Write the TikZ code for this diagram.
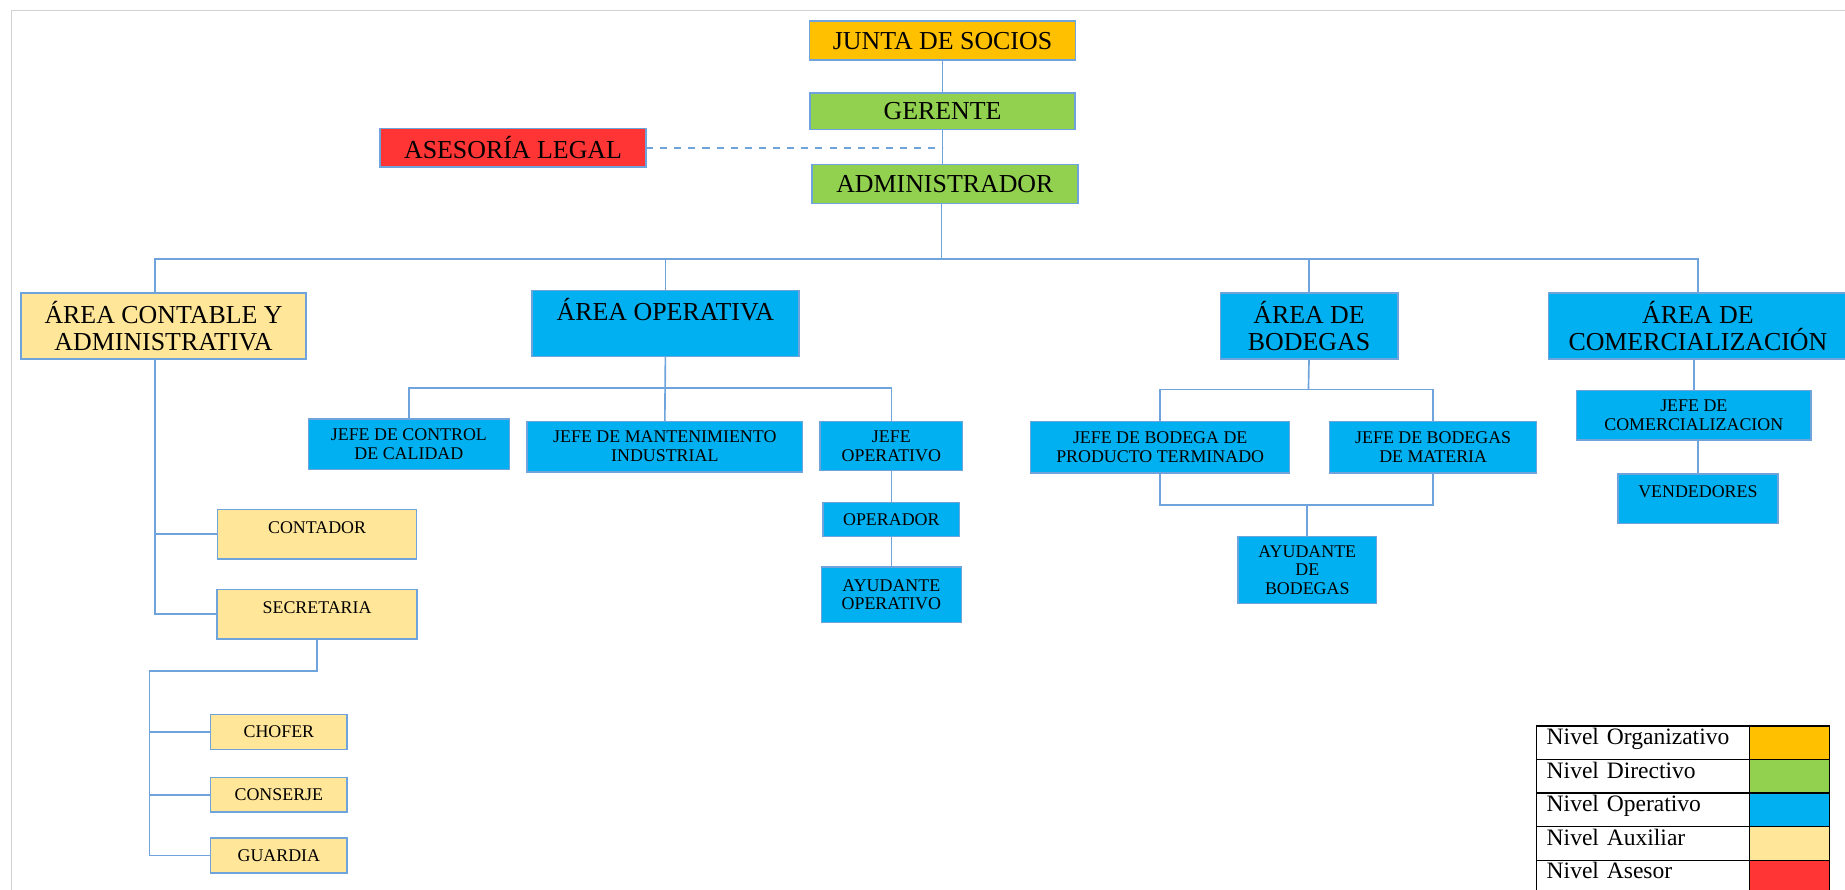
\documentclass[tikz,border=0pt]{standalone}
\usepackage{fontspec}
\setmainfont{Liberation Serif}
\usetikzlibrary{positioning}

\definecolor{socioscol}{HTML}{FFC000}
\definecolor{directcol}{HTML}{92D050}
\definecolor{operacol}{HTML}{00B0F0}
\definecolor{auxcol}{HTML}{FFE699}
\definecolor{asesorcol}{HTML}{FF3535}
\definecolor{lineacol}{HTML}{6FA3DC}

\begin{document}
\begin{tikzpicture}[
    x=0.5pt, y=-0.5pt,
    orgbox/.style={rectangle, draw=lineacol, line width=0.6pt, align=center, inner sep=0pt, outer sep=0pt},
    bigbox/.style={orgbox, font=\fontsize{11}{11.5}\selectfont},
    smallbox/.style={orgbox, font=\fontsize{7.6}{8}\selectfont},
    socios/.style={bigbox, fill=socioscol},
    directivo/.style={bigbox, fill=directcol},
    asesor/.style={bigbox, fill=asesorcol},
    areaop/.style={bigbox, fill=operacol},
    areaaux/.style={bigbox, fill=auxcol},
    operativo/.style={smallbox, fill=operacol},
    auxiliar/.style={smallbox, fill=auxcol},
    conector/.style={draw=lineacol, line width=0.7pt},
    legcell/.style={rectangle, draw=black, line width=0.5pt, outer sep=0pt, inner sep=0pt,
        minimum height=14.25pt, font=\fontsize{10}{12}\selectfont},
    legtext/.style={legcell, minimum width=90.5pt, text width=82pt, inner xsep=4.25pt,
        align=left, text height=8pt, text depth=6.25pt}
]
\useasboundingbox (0,0) rectangle (1568,756);

% Page frame
\draw[gray!35, line width=0.5pt] (10,756) -- (10,9) -- (1568,9);

% Top levels
\node[socios, minimum width=113pt, minimum height=16.5pt] (junta) at (801,34.5) {JUNTA DE SOCIOS};
\node[directivo, minimum width=112.5pt, minimum height=15.5pt, below=14pt of junta] (gerente) {GERENTE};
\node[directivo, minimum width=113pt, minimum height=16.5pt, below=15pt of gerente, xshift=1pt] (admin) {ADMINISTRADOR};
\node[asesor, minimum width=113pt, minimum height=16.5pt] (asesoria) at (436,125.5) {ASESORÍA LEGAL};

% Areas
\node[areaaux, minimum width=121pt, minimum height=28pt] (contable) at (139,277) {ÁREA CONTABLE Y\\ADMINISTRATIVA};
\node[areaop, minimum width=113.5pt, text height=12.7pt, text depth=15.3pt] (operativa) at (565.5,275) {ÁREA OPERATIVA};
\node[areaop, minimum width=75.5pt, minimum height=28pt] (bodegas) at (1112.5,277) {ÁREA DE\\BODEGAS};
\node[areaop, minimum width=127pt, minimum height=28pt] (comercial) at (1443,277) {ÁREA DE\\COMERCIALIZACIÓN};

% Area operativa
\node[operativo, minimum width=85.5pt, minimum height=21.5pt] (jcontrol) at (347.5,377.5) {JEFE DE CONTROL\\DE CALIDAD};
\node[operativo, minimum width=117pt, minimum height=21.5pt] (jmant) at (565,379.5) {JEFE DE MANTENIMIENTO\\INDUSTRIAL};
\node[operativo, minimum width=60.5pt, minimum height=21pt] (jefeop) at (757.5,379) {JEFE\\OPERATIVO};
\node[operativo, minimum width=58pt, minimum height=14.5pt, below=13.5pt of jefeop] (operador) {OPERADOR};
\node[operativo, minimum width=59.5pt, minimum height=23.5pt, below=13pt of operador] (ayudop) {AYUDANTE\\OPERATIVO};

% Area de bodegas
\node[operativo, minimum width=110pt, minimum height=22pt] (jbodpt) at (986,380) {JEFE DE BODEGA DE\\PRODUCTO TERMINADO};
\node[operativo, minimum width=88pt, minimum height=22pt] (jbodmat) at (1218,380) {JEFE DE BODEGAS\\DE MATERIA};
\node[operativo, minimum width=59pt, minimum height=28.5pt] (ayudbod) at (1111,484.5) {AYUDANTE\\DE\\BODEGAS};

% Area de comercializacion
\node[operativo, minimum width=99.5pt, minimum height=21pt] (jcom) at (1439.5,353) {JEFE DE\\COMERCIALIZACION};
\node[operativo, minimum width=68pt, text height=10pt, text depth=11pt, below=14.5pt of jcom, xshift=1.75pt] (vend) {VENDEDORES};

% Area contable
\node[auxiliar, minimum width=84.5pt, text height=10pt, text depth=11pt] (contador) at (269.5,454) {CONTADOR};
\node[auxiliar, minimum width=85pt, text height=10pt, text depth=11pt, below=13pt of contador] (secret) {SECRETARIA};
\node[auxiliar, minimum width=58pt, minimum height=15pt] (chofer) at (237,622) {CHOFER};
\node[auxiliar, minimum width=58pt, minimum height=14.5pt, below=12pt of chofer] (conserje) {CONSERJE};
\node[auxiliar, minimum width=58pt, minimum height=15pt, below=11pt of conserje] (guardia) {GUARDIA};

% Bends of the connectors
\coordinate (bus) at (800,220);
\coordinate (opbus) at (566,330);
\coordinate (bodbus) at (1112,331);
\coordinate (bodbus2) at (1111,429);
\coordinate (secbus) at (127,570);

% Connectors
\draw[conector] (junta.south) -- (gerente.north);
\draw[conector] (gerente.south) -- (gerente.south |- admin.north);
\draw[conector, dashed] (asesoria.east) -- (gerente.south |- asesoria.east);
\draw[conector] (bus |- admin.south) -- (bus);
\draw[conector] ([xshift=-3.5pt]contable.north) |- (bus) -| (comercial.north);
\draw[conector] (bus -| operativa.north) -- (operativa.north);
\draw[conector] (bus -| bodegas.north) -- (bodegas.north);

\draw[conector] (operativa.south) -- (jmant.north);
\draw[conector] (jcontrol.north) |- (opbus) -| (jefeop.north);
\draw[conector] (jefeop.south) -- (operador.north);
\draw[conector] (operador.south) -- (ayudop.north);

\draw[conector] (bodegas.south) -- (bodbus);
\draw[conector] (jbodpt.north) |- (bodbus) -| (jbodmat.north);
\draw[conector] (jbodpt.south) |- (bodbus2) -| (jbodmat.south);
\draw[conector] (bodbus2) -- (ayudbod.north);

\draw[conector] (jcom.north |- comercial.south) -- (jcom.north);
\draw[conector] (vend.north |- jcom.south) -- (vend.north);

\draw[conector] ([xshift=-3.5pt]contable.south) |- (contador.west);
\draw[conector] ([xshift=-3.5pt]contable.south) |- (secret.west);
\draw[conector] (secret.south) |- (secbus) |- (guardia.west);
\draw[conector] (secbus) |- (chofer.west);
\draw[conector] (secbus) |- (conserje.west);

% Legend
\node[legtext, anchor=north west] (lorg) at (1306,617) {Nivel Organizativo};
\node[legtext, below=0pt of lorg] (ldir) {Nivel Directivo};
\node[legtext, below=0pt of ldir] (lope) {Nivel Operativo};
\node[legtext, below=0pt of lope] (laux) {Nivel Auxiliar};
\node[legtext, below=0pt of laux] (lase) {Nivel Asesor};
\node[legcell, fill=socioscol, minimum width=34pt, right=0pt of lorg] (corg) {};
\node[legcell, fill=directcol, minimum width=34pt, right=0pt of ldir] (cdir) {};
\node[legcell, fill=operacol, minimum width=34pt, right=0pt of lope] (cope) {};
\node[legcell, fill=auxcol, minimum width=34pt, right=0pt of laux] (caux) {};
\node[legcell, fill=asesorcol, minimum width=34pt, right=0pt of lase] (case) {};

\end{tikzpicture}
\end{document}
